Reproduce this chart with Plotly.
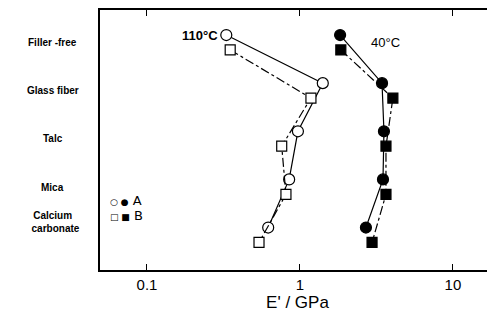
import math
import plotly.graph_objects as go

categories = ["Filler -free", "Glass fiber", "Talc", "Mica", "Calcium<br>  carbonate"]
a_110 = [0.33, 1.41, 0.97, 0.85, 0.62]
b_110 = [0.35, 1.18, 0.76, 0.81, 0.54]
a_40 = [1.83, 3.44, 3.54, 3.49, 2.70]
b_40 = [1.85, 4.05, 3.65, 3.65, 2.96]
x_tickvals = [0.1, 1, 10]
x_ticktext = ["0.1", "1", "10"]

rows = list(range(len(categories)))
off_a, off_b = -0.16, 0.15
ya = [r + off_a for r in rows]
yb = [r + off_b for r in rows]

fig = go.Figure()

def add(x, y, symbol, fill, dash):
    fig.add_trace(go.Scatter(
        x=x, y=y, mode="lines+markers",
        line=dict(color="black", width=1.2, dash=dash),
        marker=dict(symbol=symbol, size=11 if symbol == "circle" else 10,
                    color=fill, line=dict(color="black", width=1.2)),
        showlegend=False, cliponaxis=False))

add(a_110, ya, "circle", "white", "solid")
add(b_110, yb, "square", "white", "dashdot")
add(a_40, ya, "circle", "black", "solid")
add(b_40, yb, "square", "black", "dashdot")

font = "Liberation Sans, Arial, sans-serif"
anns = []
for i, c in enumerate(categories):
    anns.append(dict(x=-0.12, xref="paper", y=i, yref="y", text=c,
                     showarrow=False, xanchor="center", yanchor="middle",
                     yshift=13 if i == 4 else 0,
                     font=dict(family=font, size=10, color="black", weight="bold")))
anns.append(dict(x=math.log10(0.222), y=off_a, text="110°C", showarrow=False,
                 xanchor="center", yanchor="middle",
                 font=dict(family=font, size=13, color="black", weight="bold")))
anns.append(dict(x=math.log10(3.6), y=0.0, text="40°C", showarrow=False,
                 xanchor="center", yanchor="middle",
                 font=dict(family=font, size=13, color="black")))
anns.append(dict(x=0.02, xref="paper", y=3.28, yref="y", showarrow=False,
                 xanchor="left", yanchor="middle",
                 text="<span style='font-size:9px'>○ ●</span> A",
                 font=dict(family="DejaVu Sans", size=13, color="black")))
anns.append(dict(x=0.02, xref="paper", y=3.59, yref="y", showarrow=False,
                 xanchor="left", yanchor="middle",
                 text="<span style='font-size:9px'>□ ■</span> B",
                 font=dict(family="DejaVu Sans", size=13, color="black")))

fig.update_layout(
    width=487, height=312,
    margin=dict(l=92, r=0, t=0, b=50),
    paper_bgcolor="white", plot_bgcolor="white",
    annotations=anns,
    font=dict(family=font, color="black"),
)
fig.update_xaxes(
    type="log", range=[-1.307, 1.275],
    tickvals=x_tickvals, ticktext=x_ticktext,
    ticks="inside", ticklen=6, tickwidth=1.2, tickcolor="black",
    showline=True, linecolor="black", linewidth=2, mirror="allticks",
    showgrid=False, zeroline=False,
    tickfont=dict(size=15, color="black"),
    title=dict(text="E' / GPa", font=dict(size=17, color="black"), standoff=2),
)
fig.update_yaxes(
    range=[4.722, -0.68], showticklabels=False, ticks="",
    showline=True, linecolor="black", linewidth=2,
    showgrid=False, zeroline=False,
)

fig.write_html("out.html")
